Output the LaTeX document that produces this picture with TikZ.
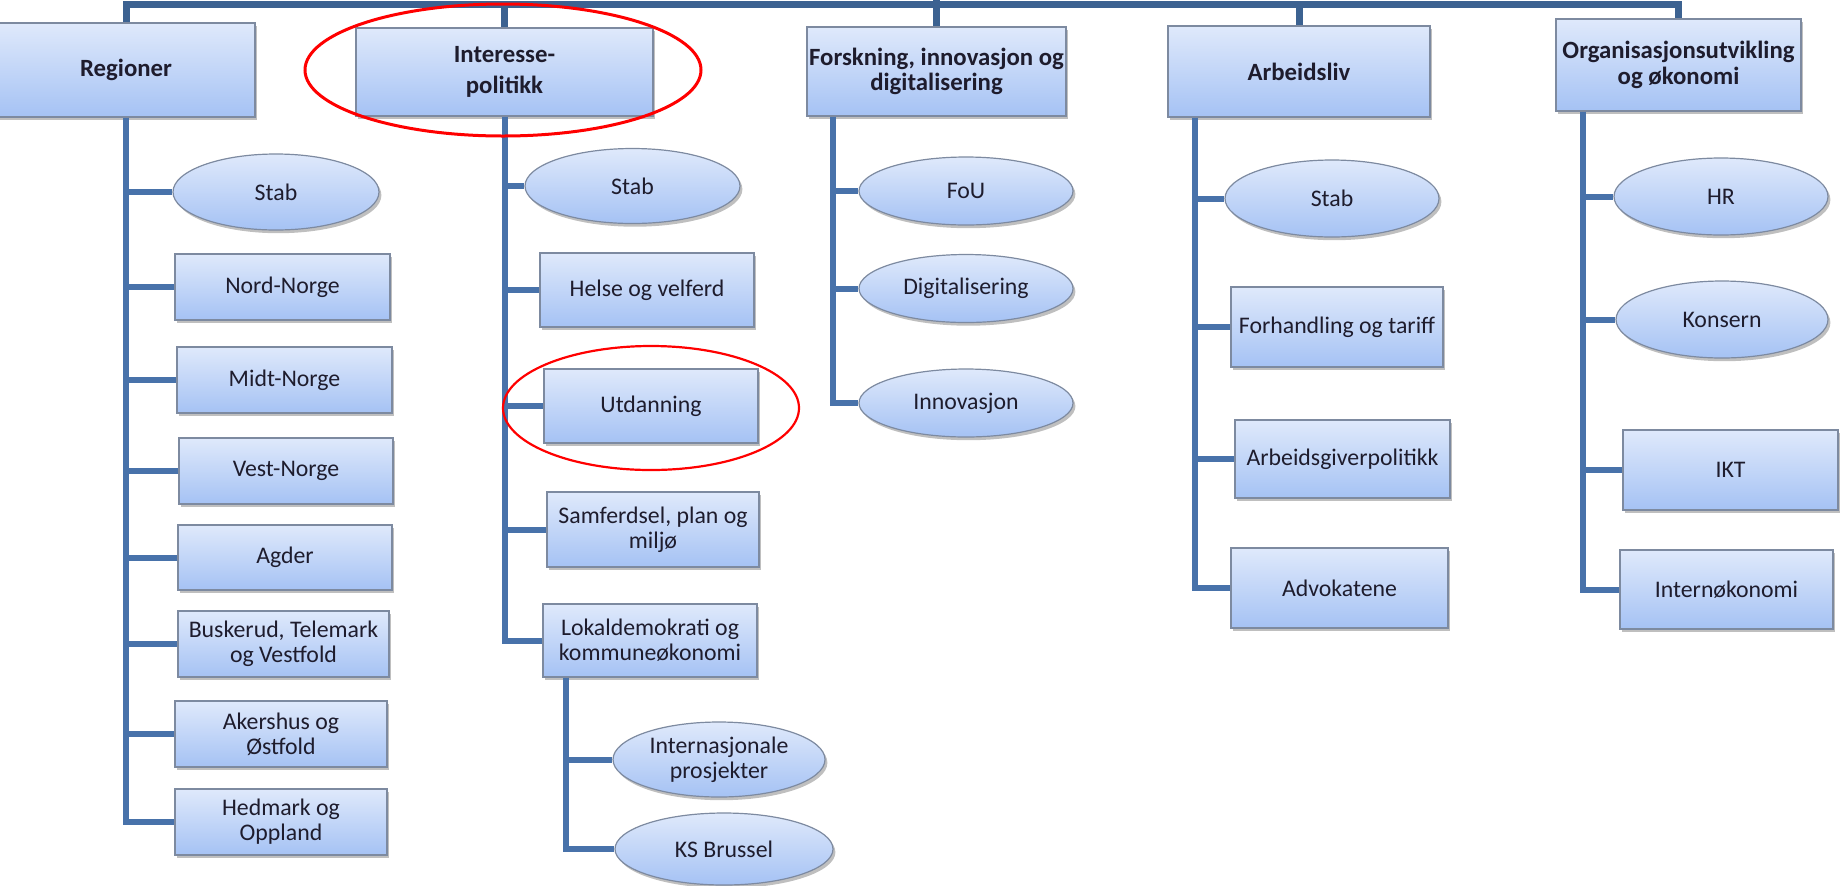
\documentclass[tikz,border=0pt]{standalone}
\usepackage{fontspec}
\setmainfont{Carlito}
\usetikzlibrary{shapes.geometric,shadows}
\definecolor{bfilltop}{RGB}{223,233,251}
\definecolor{bfillbot}{RGB}{165,194,244}
\definecolor{bdraw}{RGB}{125,138,160}
\definecolor{conncol}{RGB}{72,114,170}
\definecolor{topcol}{RGB}{60,98,145}
\definecolor{txtcol}{RGB}{30,28,45}
\begin{document}
\begin{tikzpicture}[x=0.5pt,y=-0.5pt,
  sz/.style 2 args={minimum width={#1*0.5pt},minimum height={#2*0.5pt}},
  unit/.style={draw=bdraw, line width=0.6pt, top color=bfilltop, bottom color=bfillbot,
    inner sep=0pt, align=center, text=txtcol,
    drop shadow={shadow xshift=1.2pt, shadow yshift=-1.6pt, opacity=0.25, fill=black}},
  topbox/.style={unit, rectangle, font=\fontsize{12.4}{12.8}\selectfont\bfseries},
  subbox/.style={unit, rectangle, font=\fontsize{11.9}{12.4}\selectfont},
  subell/.style={unit, ellipse, font=\fontsize{11.9}{12.4}\selectfont},
  conn/.style={draw=conncol, line width=3pt},
  topline/.style={draw=topcol, line width=3.5pt},
  hilite/.style={ellipse, draw=red, inner sep=0pt}]
\useasboundingbox (0,0) rectangle (1841,885);

% top level
\node[topbox, sz={258}{94}] (reg) at (126,70) {Regioner};
\node[topbox, sz={297}{88}] (int) at (504.5,72) {Interesse-\\[3pt]politikk};
\node[topbox, sz={259}{89}] (fors) at (936.5,71.5) {Forskning, innovasjon og\\digitalisering};
\node[topbox, sz={262}{91}] (arb) at (1299,71.5) {Arbeidsliv};
\node[topbox, sz={245}{92}] (org) at (1678.5,65) {Organisasjonsutvikling\\og økonomi};

% Regioner
\node[subell, sz={206}{76}] (rstab) at (276,192) {Stab};
\node[subbox, sz={215}{66}] (nord) at (282.5,287) {Nord-Norge};
\node[subbox, sz={215}{66}] (midt) at (284.5,380) {Midt-Norge};
\node[subbox, sz={214}{66}] (vest) at (286,471) {Vest-Norge};
\node[subbox, sz={214}{65}] (agder) at (285,557.5) {Agder};
\node[subbox, sz={211}{66}] (busk) at (283.5,644) {Buskerud, Telemark\\og Vestfold};
\node[subbox, sz={212}{66}] (akers) at (281,734) {Akershus og\\Østfold};
\node[subbox, sz={212}{66}] (hedm) at (281,822) {Hedmark og\\Oppland};

% Interessepolitikk
\node[subell, sz={215}{75}] (istab) at (632.5,186) {Stab};
\node[subbox, sz={214}{74}] (helse) at (647,290) {Helse og velferd};
\node[subbox, sz={214}{74}] (utd) at (651,406) {Utdanning};
\node[subbox, sz={212}{75}] (samf) at (653,529.5) {Samferdsel, plan og\\miljø};
\node[subbox, sz={214}{73}] (lokal) at (650,640.5) {Lokaldemokrati og\\kommuneøkonomi};
\node[subell, sz={212}{75}] (inter) at (719,759.5) {Internasjonale\\prosjekter};
\node[subell, sz={218}{72}] (ks) at (724,849) {KS Brussel};

% Forskning
\node[subell, sz={214}{68}] (fou) at (966,191) {FoU};
\node[subell, sz={214}{68}] (digi) at (966,288.5) {Digitalisering};
\node[subell, sz={214}{68}] (innov) at (966,403) {Innovasjon};

% Arbeidsliv
\node[subell, sz={214}{77}] (astab) at (1332,198.5) {Stab};
\node[subbox, sz={212}{80}] (forh) at (1337,327) {Forhandling og tariff};
\node[subbox, sz={215}{78}] (agp) at (1342.5,459) {Arbeidsgiverpolitikk};
\node[subbox, sz={217}{80}] (advok) at (1339.5,588) {Advokatene};

% Organisasjon
\node[subell, sz={214}{77}] (hr) at (1721,196.5) {HR};
\node[subell, sz={212}{77}] (kons) at (1722,319.5) {Konsern};
\node[subbox, sz={215}{80}] (ikt) at (1730.5,470) {IKT};
\node[subbox, sz={213}{79}] (intern) at (1726.5,589.5) {Internøkonomi};

% top connectors
\coordinate (tl) at (0,4);
\coordinate (ftop) at (0,0);
\draw[topline] (reg.north) -- (reg.north |- tl) -- (org.north |- tl) -- (org.north);
\draw[topline] (int.north |- tl) -- (int.north);
\draw[topline] (arb.north |- tl) -- (arb.north);
\draw[topline] (fors.north |- ftop) -- (fors.north);

% trunks
\draw[conn] (reg.south) -- (reg.south |- hedm.west) -- (hedm.west);
\foreach \n in {rstab,nord,midt,vest,agder,busk,akers}
  \draw[conn] (reg.south |- \n.west) -- (\n.west);

\draw[conn] (int.south) -- (int.south |- lokal.west) -- (lokal.west);
\foreach \n in {istab,helse,utd,samf}
  \draw[conn] (int.south |- \n.west) -- (\n.west);

\coordinate (lv) at (566,0);
\draw[conn] (lv |- lokal.south) -- (lv |- ks.west) -- (ks.west);
\draw[conn] (lv |- inter.west) -- (inter.west);

\coordinate (fv) at (833,0);
\draw[conn] (fv |- fors.south) -- (fv |- innov.west) -- (innov.west);
\foreach \n in {fou,digi}
  \draw[conn] (fv |- \n.west) -- (\n.west);

\coordinate (av) at (1195,0);
\draw[conn] (av |- arb.south) -- (av |- advok.west) -- (advok.west);
\foreach \n in {astab,forh,agp}
  \draw[conn] (av |- \n.west) -- (\n.west);

\coordinate (ov) at (1583,0);
\draw[conn] (ov |- org.south) -- (ov |- intern.west) -- (intern.west);
\foreach \n in {hr,kons,ikt}
  \draw[conn] (ov |- \n.west) -- (\n.west);

% red highlight ellipses
\node[hilite, line width=1.5pt, sz={396}{132}] (hlA) at (503,70) {};
\node[hilite, line width=1.1pt, sz={296}{124}] (hlB) at (651,408) {};
\end{tikzpicture}
\end{document}
